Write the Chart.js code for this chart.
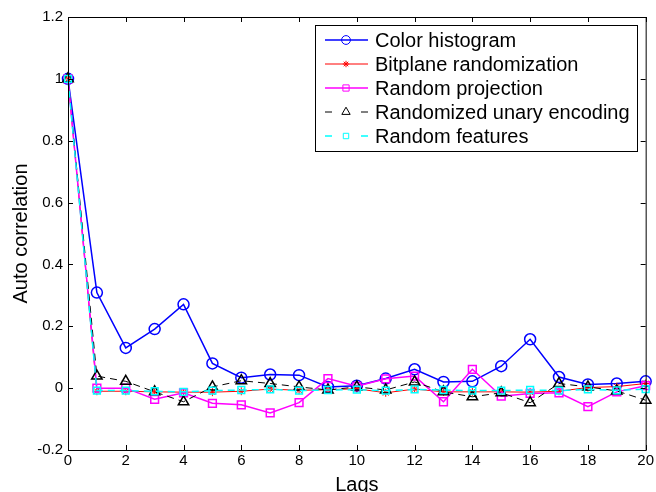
<!DOCTYPE html>
<html lang="en">
<head>
    <meta charset="UTF-8">
    <title>Auto correlation</title>
    <script src="https://cdn.jsdelivr.net/npm/chart.js"></script>
    <style>
        html, body { margin: 0; padding: 0; background: #fff; }
        #box { width: 656px; height: 492px; }
    </style>
</head>
<body>
    <div id="box"><canvas id="acChart" width="656" height="492"></canvas></div>

    <script>
        // данные
        const lags = [0, 1, 2, 3, 4, 5, 6, 7, 8, 9, 10, 11, 12, 13, 14, 15, 16, 17, 18, 19, 20];
        const colorHistogram = [1, 0.309, 0.13, 0.191, 0.271, 0.08, 0.034, 0.044, 0.042, 0.004, 0.008, 0.031, 0.061, 0.02, 0.022, 0.071, 0.158, 0.036, 0.012, 0.015, 0.022];
        const bitplane = [1, -0.01, -0.01, -0.012, -0.013, -0.013, -0.01, -0.003, -0.007, -0.005, -0.002, -0.015, -0.003, -0.012, -0.012, -0.012, -0.013, -0.01, 0.002, 0.005, 0.015];
        const randomProjection = [1, 0, 0, -0.036, -0.015, -0.049, -0.054, -0.08, -0.047, 0.031, 0.006, 0.03, 0.039, -0.044, 0.061, -0.026, -0.017, -0.015, -0.06, -0.012, 0.008];
        const unaryEncoding = [1, 0.039, 0.022, -0.012, -0.044, 0.004, 0.024, 0.015, 0.004, -0.006, 0.004, -0.006, 0.02, -0.012, -0.028, -0.015, -0.047, 0.015, 0.004, -0.009, -0.039];
        const randomFeatures = [1, -0.008, -0.008, -0.01, -0.012, -0.008, -0.006, -0.004, -0.008, -0.006, -0.005, -0.008, -0.004, -0.006, -0.008, -0.008, -0.006, -0.008, -0.004, -0.007, -0.003];
        const xTicks = [0, 2, 4, 6, 8, 10, 12, 14, 16, 18, 20];
        const yTicks = [-0.2, 0, 0.2, 0.4, 0.6, 0.8, 1, 1.2];

        const FONT = "'Liberation Sans', Arial, sans-serif";

        const toPoints = vals => vals.map((v, i) => ({ x: lags[i], y: v }));

        // описание серий: подпись, цвет, маркер
        const series = [
            { label: 'Color histogram', data: colorHistogram, color: '#0000ff', style: 'circle', r: 5.5, width: 1.5, dash: [], order: 5 },
            { label: 'Bitplane randomization', data: bitplane, color: '#ff0000', style: 'star', r: 4, width: 1, dash: [], order: 4 },
            { label: 'Random projection', data: randomProjection, color: '#ff00ff', style: 'rect', r: 5.5, width: 1.5, dash: [], order: 3 },
            { label: 'Randomized unary encoding', data: unaryEncoding, color: '#000000', style: 'triangle', r: 6, width: 1, dash: [7, 5], order: 2 },
            { label: 'Random features', data: randomFeatures, color: '#00ffff', style: 'rect', r: 4.8, width: 1.5, dash: [7, 5], order: 1 }
        ];

        // рамка, засечки внутрь, подписи осей и легенда
        const framePlugin = {
            id: 'frame',
            afterDraw(chart) {
                const { ctx, chartArea: a, scales: { x, y } } = chart;
                ctx.save();
                ctx.strokeStyle = '#000';
                ctx.lineWidth = 1;
                ctx.setLineDash([]);
                ctx.strokeRect(a.left + 0.5, a.top + 0.5, a.right - a.left, a.bottom - a.top);
                ctx.beginPath();
                xTicks.forEach(t => {
                    const px = Math.round(x.getPixelForValue(t)) + 0.5;
                    ctx.moveTo(px, a.bottom); ctx.lineTo(px, a.bottom - 5);
                    ctx.moveTo(px, a.top); ctx.lineTo(px, a.top + 5);
                });
                yTicks.forEach(t => {
                    const py = Math.round(y.getPixelForValue(t)) + 0.5;
                    ctx.moveTo(a.left, py); ctx.lineTo(a.left + 5, py);
                    ctx.moveTo(a.right, py); ctx.lineTo(a.right - 5, py);
                });
                ctx.stroke();

                // подписи осей
                ctx.fillStyle = '#000';
                ctx.font = `20px ${FONT}`;
                ctx.textAlign = 'center';
                ctx.textBaseline = 'alphabetic';
                ctx.fillText('Lags', (a.left + a.right) / 2, 491);
                ctx.save();
                ctx.translate(27, (a.top + a.bottom) / 2);
                ctx.rotate(-Math.PI / 2);
                ctx.fillText('Auto correlation', 0, 0);
                ctx.restore();

                // легенда
                const bx = 315, by = 25, bw = 322, bh = 126;
                ctx.fillStyle = '#fff';
                ctx.fillRect(bx, by, bw, bh);
                ctx.strokeRect(bx + 0.5, by + 0.5, bw, bh);
                ctx.textAlign = 'left';
                ctx.textBaseline = 'middle';
                series.forEach((s, i) => {
                    const ry = 40 + i * 24;
                    ctx.strokeStyle = s.color;
                    ctx.lineWidth = s.width;
                    ctx.beginPath();
                    if (s.dash.length) {
                        ctx.moveTo(325, ry); ctx.lineTo(332, ry);
                        ctx.moveTo(361, ry); ctx.lineTo(368, ry);
                    } else {
                        ctx.moveTo(325, ry); ctx.lineTo(368, ry);
                    }
                    ctx.stroke();
                    ctx.fillStyle = 'rgba(0,0,0,0)';
                    ctx.lineWidth = 1;
                    Chart.helpers.drawPoint(ctx, {
                        pointStyle: s.style,
                        radius: s.r * 0.8,
                        rotation: 0,
                        borderWidth: 1
                    }, 346, ry);
                    ctx.fillStyle = '#000';
                    ctx.fillText(s.label, 375, ry + 1);
                });
                ctx.restore();
            }
        };

        const ctx = document.getElementById('acChart').getContext('2d');
        new Chart(ctx, {
            type: 'line',
            data: {
                datasets: series.map(s => ({
                    label: s.label,
                    data: toPoints(s.data),
                    borderColor: s.color,
                    borderWidth: s.width,
                    borderDash: s.dash,
                    backgroundColor: 'rgba(0,0,0,0)',
                    pointStyle: s.style,
                    pointRadius: s.r,
                    pointBorderColor: s.color,
                    pointBackgroundColor: 'rgba(0,0,0,0)',
                    pointBorderWidth: s.style === 'star' ? 1 : 1.5,
                    tension: 0,
                    fill: false,
                    clip: false,
                    order: s.order
                }))
            },
            options: {
                responsive: false,
                devicePixelRatio: 1,
                animation: false,
                layout: { padding: { top: 17, right: 10, left: 0, bottom: 0 } },
                plugins: { legend: { display: false }, tooltip: { enabled: false } },
                scales: {
                    x: {
                        type: 'linear',
                        min: 0, max: 20,
                        afterFit: s => { s.height = 42; },
                        afterBuildTicks: s => { s.ticks = xTicks.map(v => ({ value: v })); },
                        grid: { display: false, drawTicks: false },
                        border: { display: false },
                        ticks: { color: '#000', padding: 2, font: { family: FONT, size: 15 } }
                    },
                    y: {
                        type: 'linear',
                        min: -0.2, max: 1.2,
                        afterFit: s => { s.width = 68; },
                        afterBuildTicks: s => { s.ticks = yTicks.map(v => ({ value: v })); },
                        grid: { display: false, drawTicks: false },
                        border: { display: false },
                        ticks: {
                            color: '#000', padding: 5,
                            font: { family: FONT, size: 15 },
                            callback: v => String(Math.round(v * 10) / 10)
                        }
                    }
                }
            },
            plugins: [framePlugin]
        });
    </script>
</body>
</html>
